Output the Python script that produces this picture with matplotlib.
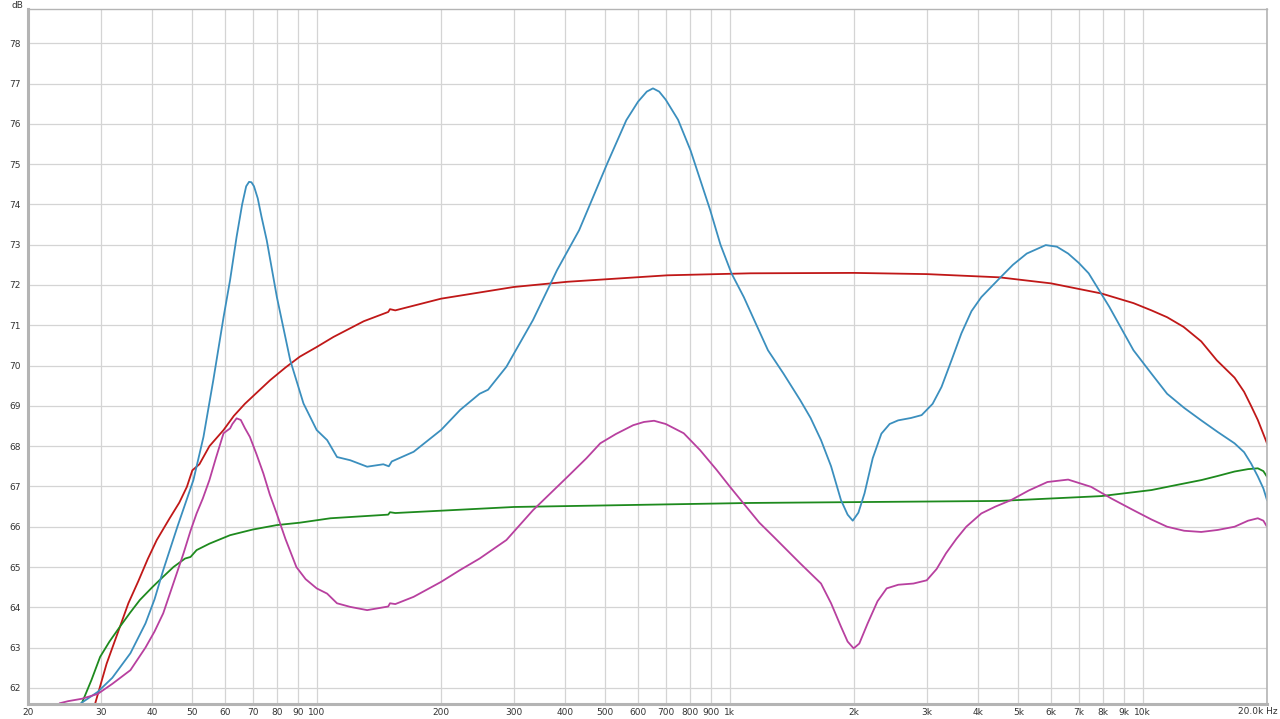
import matplotlib
matplotlib.use("Agg")
import matplotlib.pyplot as plt
from matplotlib.ticker import FixedLocator, NullLocator

# values (Hz, dB)
blue_freq = [26.7, 29.5, 32, 35.4, 38.5, 40.5, 42.5, 46, 50.3, 53.2, 56.2, 59.5, 61.7, 64,
             66, 67.5, 68.6, 69.5, 70.5, 72, 73.5, 75.7, 80.1, 86.3, 92.9, 100, 106, 112, 120.6,
             132.5, 145, 149.5, 152, 171.7, 200, 222.6, 248, 260, 288, 334, 382, 432, 505, 562,
             600, 630, 652, 675, 700, 750, 804, 897, 950, 1010, 1082, 1150, 1238, 1350, 1482,
             1570, 1664, 1760, 1860, 1930, 1986, 2050, 2121, 2220, 2330, 2440, 2558, 2750, 2916,
             3100, 3258, 3450, 3640, 3850, 4068, 4497, 4850, 5240, 5825, 6200, 6600, 7000, 7400,
             8300, 9500, 10500, 11460, 12600, 13860, 15200, 16690, 17600, 18300, 19000, 19600,
             20000]
blue_db = [61.6, 61.9, 62.25, 62.86, 63.6, 64.2, 64.92, 66.0, 67.16, 68.23, 69.64, 71.2, 72.12, 73.2,
           74.0, 74.45, 74.56, 74.55, 74.45, 74.15, 73.7, 73.11, 71.7, 70.13, 69.06, 68.4, 68.15,
           67.73, 67.65, 67.49, 67.55, 67.5, 67.62, 67.86, 68.4, 68.9, 69.3, 69.4, 69.97, 71.13,
           72.37, 73.36, 75.01, 76.09, 76.55, 76.8, 76.88, 76.8, 76.6, 76.1, 75.34, 73.86, 73.0,
           72.29, 71.7, 71.1, 70.38, 69.8, 69.14, 68.7, 68.15, 67.5, 66.66, 66.3, 66.15, 66.35,
           66.83, 67.7, 68.31, 68.55, 68.64, 68.7, 68.77, 69.05, 69.47, 70.15, 70.8, 71.35, 71.7,
           72.16, 72.5, 72.78, 72.99, 72.95, 72.78, 72.55, 72.29, 71.46, 70.38, 69.8, 69.3, 68.95,
           68.64, 68.35, 68.07, 67.85, 67.57, 67.25, 66.95, 66.66]

red_freq = [29.1, 31, 33.4, 35, 37, 39, 41, 44, 46.5, 48.5, 50, 52, 55, 59.5, 63, 67, 72, 77.2,
            84, 91, 100, 109.8, 130, 149, 150.5, 155, 200, 300, 405, 706, 1124, 2000, 3000,
            4500, 6000, 7940, 9500, 10500, 11460, 12560, 13860, 15120, 16690, 17600, 18300,
            19000, 19600, 20000]
red_db = [61.62, 62.6, 63.52, 64.1, 64.65, 65.2, 65.67, 66.2, 66.6, 66.99, 67.4, 67.55, 68.0, 68.4,
          68.75, 69.05, 69.35, 69.64, 69.95, 70.22, 70.46, 70.71, 71.1, 71.33, 71.4, 71.37, 71.66,
          71.95, 72.08, 72.24, 72.29, 72.3, 72.27, 72.19, 72.04, 71.79, 71.55, 71.37, 71.2, 70.96,
          70.6, 70.13, 69.7, 69.35, 69.0, 68.65, 68.3, 68.07]

green_freq = [27, 28.5, 29.9, 31.5, 33.4, 35.3, 37.3, 40, 42.5, 45, 48, 49.5, 51.2, 55, 61.7, 70,
              80, 91, 108, 149, 150.5, 155, 300, 1124, 4500, 7940, 10500, 12000, 13900, 15200,
              16690, 18000, 19000, 19600, 20000]
green_db = [61.62, 62.2, 62.77, 63.15, 63.52, 63.86, 64.18, 64.5, 64.76, 65.0, 65.21, 65.25, 65.42,
            65.58, 65.79, 65.93, 66.04, 66.1, 66.21, 66.3, 66.36, 66.34, 66.49, 66.59, 66.64, 66.76,
            66.91, 67.03, 67.16, 67.26, 67.37, 67.43, 67.45, 67.38, 67.24]

pink_freq = [23.9, 25, 27, 29.5, 32, 35.4, 38.5, 40.5, 42.5, 45, 47.6, 49.5, 51.2, 53, 55, 57,
             59.5, 61.7, 62.5, 64, 65.5, 67, 68.9, 71.5, 74.3, 77, 80, 84, 89.3, 94, 100, 106, 112,
             120.6, 132.5, 149, 150.5, 155, 171.7, 200, 222, 248, 288, 334, 405, 450, 486, 530,
             584, 620, 656, 700, 774, 848, 930, 1000, 1082, 1180, 1278, 1482, 1664, 1760, 1860,
             1930, 1996, 2060, 2158, 2280, 2400, 2560, 2786, 3000, 3170, 3340, 3540, 3740, 4068,
             4400, 4800, 5300, 5880, 6600, 7500, 8400, 9500, 10500, 11460, 12600, 13860, 15200,
             16690, 18000, 19000, 19600, 20000]
pink_db = [61.62, 61.67, 61.73, 61.85, 62.1, 62.44, 63.0, 63.4, 63.85, 64.6, 65.34, 65.9, 66.33,
           66.7, 67.16, 67.7, 68.32, 68.44, 68.55, 68.69, 68.65, 68.45, 68.23, 67.8, 67.32, 66.8,
           66.33, 65.7, 65.0, 64.7, 64.47, 64.34, 64.1, 64.01, 63.93, 64.02, 64.1, 64.08, 64.26,
           64.63, 64.92, 65.21, 65.67, 66.41, 67.24, 67.7, 68.07, 68.3, 68.52, 68.6, 68.63, 68.55,
           68.32, 67.9, 67.41, 67.0, 66.57, 66.1, 65.75, 65.09, 64.59, 64.1, 63.52, 63.15, 62.98,
           63.1, 63.6, 64.15, 64.47, 64.56, 64.59, 64.67, 64.95, 65.34, 65.7, 66.0, 66.33, 66.5,
           66.66, 66.9, 67.11, 67.17, 66.99, 66.7, 66.41, 66.18, 66.0, 65.9, 65.87, 65.92, 66.0,
           66.15, 66.21, 66.15, 66.0]

x_ticks = [20, 30, 40, 50, 60, 70, 80, 90, 100, 200, 300, 400, 500, 600, 700, 800, 900,
           1000, 2000, 3000, 4000, 5000, 6000, 7000, 8000, 9000, 10000, 20000]
x_labels = ["20", "30", "40", "50", "60", "70", "80", "90", "100", "200", "300", "400", "500",
            "600", "700", "800", "900", "1k", "2k", "3k", "4k", "5k", "6k", "7k", "8k", "9k",
            "10k", ""]
y_ticks = list(range(62, 79))

fig = plt.figure(figsize=(12.8, 7.19), dpi=100)
ax = fig.add_axes([28 / 1280, 15 / 719, 1239 / 1280, 695 / 719])

ax.plot(red_freq, red_db, color="#c01818", lw=1.3)
ax.plot(green_freq, green_db, color="#1e8a1e", lw=1.3)
ax.plot(blue_freq, blue_db, color="#3b8fbe", lw=1.3)
ax.plot(pink_freq, pink_db, color="#b8409f", lw=1.3)

ax.set_xscale("log")
ax.set_xlim(20, 20000)
ax.set_ylim(61.6, 78.85)
ax.xaxis.set_major_locator(FixedLocator(x_ticks))
ax.xaxis.set_minor_locator(NullLocator())
ax.set_xticklabels(x_labels)
ax.set_yticks(y_ticks)
ax.set_yticklabels([str(v) for v in y_ticks])
ax.tick_params(axis="both", length=0, labelsize=6.5, colors="#333333")
ax.tick_params(axis="x", pad=3)
ax.tick_params(axis="y", pad=5)
ax.grid(True, color="#d4d4d4", lw=0.9)
ax.set_axisbelow(True)

for side, w in [("left", 2.2), ("bottom", 2.2), ("right", 1.2), ("top", 1.0)]:
    ax.spines[side].set_color("#b4b4b4")
    ax.spines[side].set_linewidth(w)

# last frequency label sits left of the right edge, as in the reference
fig.text(1278 / 1280, 1 - 711 / 719, "20.0k Hz", fontsize=6.5, color="#333333",
         ha="right", va="center")
fig.text(17 / 1280, 1 - 5 / 719, "dB", fontsize=6.5, color="#333333", ha="center", va="center")

fig.savefig("out.png", dpi=100)
